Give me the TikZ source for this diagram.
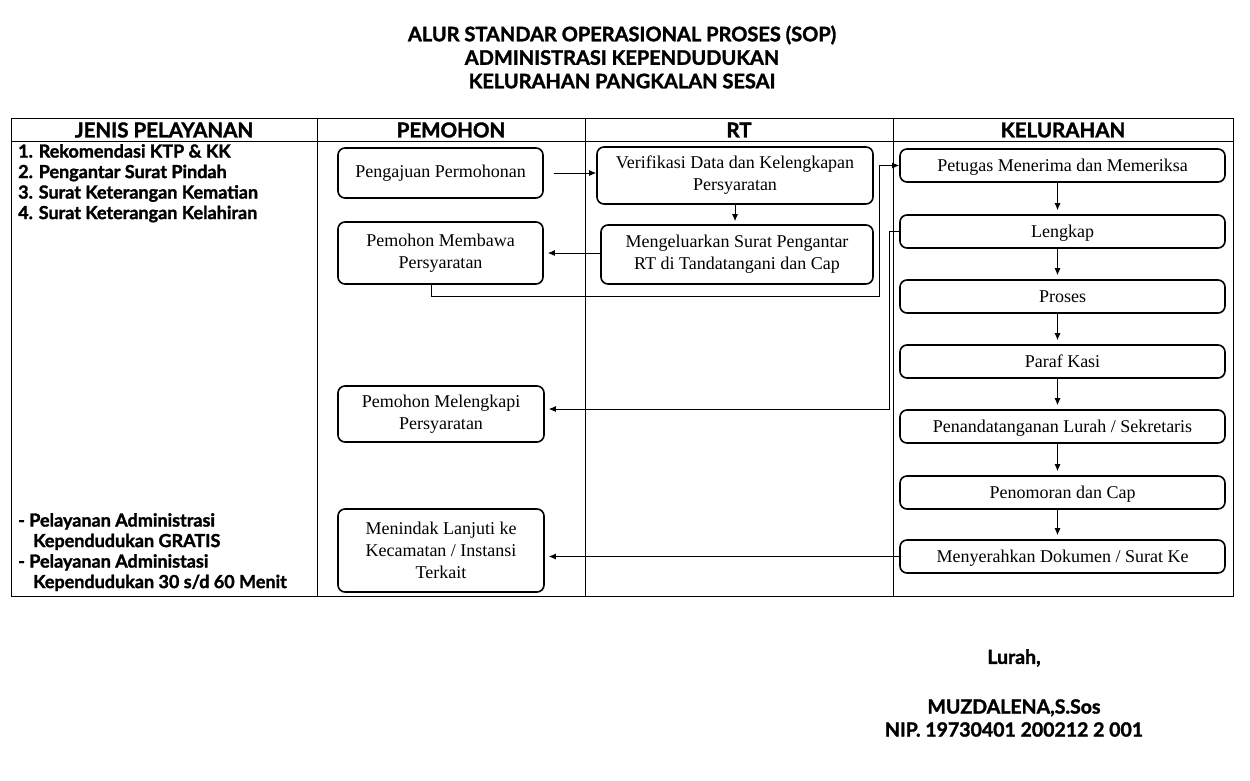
\documentclass[tikz,border=0pt]{standalone}
\usepackage{fontspec}
\setmainfont{Liberation Serif}
\newfontfamily\judulfont{Lato}[BoldFeatures={FakeBold=1.6}]
\usetikzlibrary{arrows.meta}

\begin{document}
\begin{tikzpicture}[x=1pt,y=-1pt,
    kotak/.style={draw,line width=1.6pt,rounded corners=7pt,align=center,inner sep=0pt,
                  font=\fontsize{18}{22}\selectfont},
    kel/.style={kotak,minimum width=325pt,minimum height=33pt,text depth=0pt},
    panah/.style={line width=0.9pt,-{Latex[length=7pt,width=6pt]}},
    garis/.style={line width=0.8pt},
    tebal/.style={font=\judulfont\bfseries\fontsize{18}{20.5}\selectfont},
    kepala/.style={font=\judulfont\bfseries\fontsize{20.5}{22}\selectfont}]
    \useasboundingbox (0,0) rectangle (1250,780);

    % Judul
    \node[font=\judulfont\bfseries\fontsize{20}{23.5}\selectfont,align=center] (judul) at (622,57)
        {ALUR STANDAR OPERASIONAL PROSES (SOP)\\ADMINISTRASI KEPENDUDUKAN\\KELURAHAN PANGKALAN SESAI};

    % Tabel
    \draw[garis] (11,118) rectangle (1233,596);
    \draw[garis] (11,141) -- (1233,141);
    \foreach \x in {317,585,893} \draw[garis] (\x,118) -- (\x,596);
    \node[kepala] (hJenis) at (164,130) {JENIS PELAYANAN};
    \node[kepala] (hPemohon) at (451,130) {PEMOHON};
    \node[kepala] (hRT) at (739,130) {RT};
    \node[kepala] (hKel) at (1063,130) {KELURAHAN};

    % Jenis pelayanan
    \node[tebal,align=left,anchor=north west,inner sep=0pt] (jenis) at (18,144)
        {1. Rekomendasi KTP \& KK\\2. Pengantar Surat Pindah\\3. Surat Keterangan Kematian\\4. Surat Keterangan Kelahiran};
    \node[tebal,align=left,anchor=north west,inner sep=0pt] (catatan) at (18,513)
        {- Pelayanan Administrasi\\\hspace*{15pt}Kependudukan GRATIS\\- Pelayanan Administasi\\\hspace*{15pt}Kependudukan 30 s/d 60 Menit};

    % Pemohon
    \node[kotak,minimum width=205pt,minimum height=50pt] (pengajuan) at (440.5,173) {Pengajuan Permohonan};
    \node[kotak,minimum width=205pt,minimum height=62pt] (membawa) at (440.5,253) {Pemohon Membawa\\Persyaratan};
    \node[kotak,minimum width=206pt,minimum height=56pt] (melengkapi) at (441,414) {Pemohon Melengkapi\\Persyaratan};
    \node[kotak,minimum width=206pt,minimum height=83pt] (menindak) at (441,550.5) {Menindak Lanjuti ke\\Kecamatan / Instansi\\Terkait};

    % RT
    \node[kotak,minimum width=276pt,minimum height=57pt] (verifikasi) at (735,175.5) {Verifikasi Data dan Kelengkapan\\Persyaratan};
    \node[kotak,minimum width=272pt,minimum height=59pt] (mengeluarkan) at (737,254.5) {Mengeluarkan Surat Pengantar\\RT di Tandatangani dan Cap};

    % Kelurahan
    \node[kel] (petugas) at (1062.5,165.5) {Petugas Menerima dan Memeriksa};
    \node[kel] (lengkap) at (1062.5,231.5) {Lengkap};
    \node[kel] (proses) at (1062.5,296.5) {Proses};
    \node[kel] (paraf) at (1062.5,361.5) {Paraf Kasi};
    \node[kel] (ttd) at (1062.5,426.5) {Penandatanganan Lurah / Sekretaris};
    \node[kel] (nomor) at (1062.5,492.5) {Penomoran dan Cap};
    \node[kel] (serah) at (1062.5,556.5) {Menyerahkan Dokumen / Surat Ke};

    % Alur
    \draw[panah,shorten <=10pt] (pengajuan.east) -- (verifikasi.west |- pengajuan.east);
    \draw[panah,shorten >=3pt] (verifikasi.south) -- (verifikasi.south |- mengeluarkan.north);
    \draw[panah,shorten >=4pt] (mengeluarkan.west |- membawa.east) -- (membawa.east);
    \coordinate (belokA) at (879,296);
    \draw[panah] ([xshift=-9pt]membawa.south) |- (belokA) |- (petugas.west);
    \coordinate (belokB) at (889,409);
    \draw[panah] (lengkap.west) -| (belokB) -- ([xshift=4pt]melengkapi.east |- belokB);
    \draw[panah] (serah.west) -- ([xshift=4pt]menindak.east |- serah.west);
    \foreach \a/\b in {petugas/lengkap,lengkap/proses,proses/paraf,paraf/ttd,ttd/nomor,nomor/serah}
        \draw[panah,shorten >=4pt] ([xshift=-5pt]\a.south) -- ([xshift=-5pt]\b.north);

    % Tanda tangan
    \node[font=\judulfont\bfseries\fontsize{19.5}{22}\selectfont] (lurah) at (1014,658) {Lurah,};
    \node[font=\judulfont\bfseries\fontsize{19.5}{23}\selectfont,align=center] (nama) at (1014,718)
        {MUZDALENA,S.Sos\\NIP. 19730401 200212 2 001};
\end{tikzpicture}
\end{document}
